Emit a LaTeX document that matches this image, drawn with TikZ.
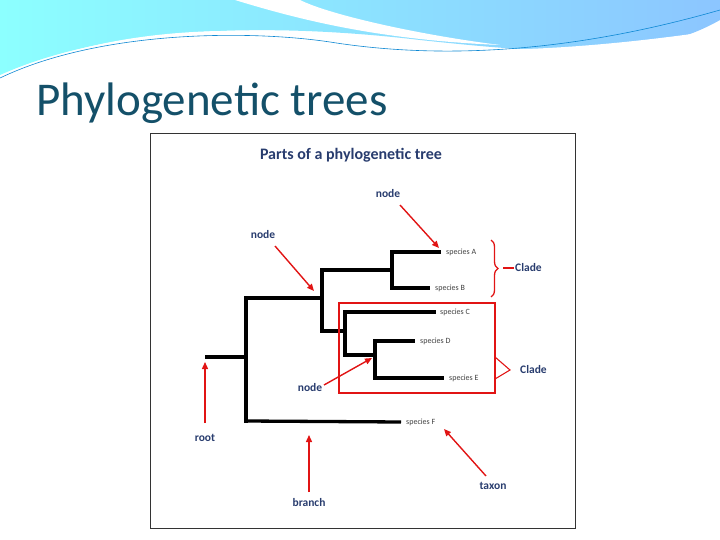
\documentclass[tikz,border=0pt]{standalone}
\usepackage{fontspec}
\setmainfont{Carlito}
\usetikzlibrary{arrows.meta,decorations.pathreplacing}
\definecolor{ttl}{RGB}{20,80,105}
\definecolor{lbl}{RGB}{40,60,110}
\definecolor{arr}{RGB}{225,20,20}
\begin{document}
\begin{tikzpicture}[x=1pt,y=-1pt,
 br/.style={line width=3.3pt},
 ar/.style={arr,line width=1.4pt,-{Triangle[length=7pt,width=6pt]}},
 sp/.style={font=\fontsize{8}{9}\selectfont,text=black!75,anchor=west,inner sep=1pt},
 lb/.style={font=\fontsize{11.5}{13}\selectfont\bfseries,text=lbl,inner sep=1pt}]
\useasboundingbox (0,0) rectangle (720,540);
% header
\shade[left color=cyan!45!white,right color=cyan!50!blue!45!white] (0,0) -- (720,0) -- (720,20) .. controls (650,60) and (560,55) .. (420,40) .. controls (250,20) and (100,30) .. (0,75) -- cycle;
\fill[white] (0,80) .. controls (100,25) and (250,25) .. (330,38) .. controls (430,55) and (550,55) .. (720,30) -- (720,80) -- cycle;
\fill[white] (235,0) .. controls (300,20) and (380,40) .. (500,45) .. controls (420,35) and (330,15) .. (300,0) -- cycle;
\draw[cyan!70!blue,line width=0.6pt] (0,78) .. controls (100,30) and (250,30) .. (330,42) .. controls (430,58) and (560,56) .. (720,10);
\node[anchor=base west,font=\fontsize{47}{50}\selectfont,text=ttl,inner sep=0] (t) at (36,116) {Phylogenetic trees};
% panel
\node[draw=black!80,line width=0.6pt,minimum width=425pt,minimum height=395pt,inner sep=0,anchor=north west] (panel) at (150,133) {};
\node[font=\fontsize{16}{18}\selectfont\bfseries,text=lbl] (h) at (351,155) {Parts of a phylogenetic tree};
% tree
\coordinate (r0) at (205,357); \coordinate (n1) at (246,357);
\coordinate (n1t) at (246,298); \coordinate (n1b) at (246,421);
\coordinate (n2) at (322,298); \coordinate (n2t) at (322,270); \coordinate (n2b) at (322,331);
\coordinate (n3) at (392,270); \coordinate (n3t) at (392,252); \coordinate (n3b) at (392,288);
\coordinate (n4) at (345,331); \coordinate (n4t) at (345,312); \coordinate (n4b) at (345,355);
\coordinate (n5) at (375,355); \coordinate (n5t) at (375,341); \coordinate (n5b) at (375,378);
\node[sp] (A) at (445,252) {species A};
\node[sp] (B) at (434,288) {species B};
\node[sp] (C) at (439,312) {species C};
\node[sp] (D) at (419,341) {species D};
\node[sp] (E) at (448,378) {species E};
\node[sp] (F) at (405,422) {species F};
\draw[br] (r0) -- (n1);
\draw[br,line cap=rect] (n1t) -- (n1b);
\draw[br] (n1t) -- (n2); \draw[br] (n1b) -- ([xshift=-4pt]F.west);
\draw[br,line cap=rect] (n2t) -- (n2b);
\draw[br] (n2t) -- (n3); \draw[br,line cap=rect] (n3t) -- (n3b);
\draw[br] (n3t) -- ([xshift=-4pt]A.west); \draw[br] (n3b) -- ([xshift=-4pt]B.west);
\draw[br] (n2b) -- (n4); \draw[br,line cap=rect] (n4t) -- (n4b);
\draw[br] (n4t) -- ([xshift=-3pt]C.west); \draw[br] (n4b) -- (n5);
\draw[br,line cap=rect] (n5t) -- (n5b);
\draw[br] (n5t) -- ([xshift=-4pt]D.west); \draw[br] (n5b) -- ([xshift=-4pt]E.west);
% clades
\coordinate (bx1) at (339,303); \coordinate (bx2) at (495,393);
\draw[arr,line width=1.1pt] (bx1) rectangle (bx2);
\draw[arr,line width=1.3pt,decorate,decoration={brace,amplitude=7pt}] (491,240) -- (491,297);
\node[lb,anchor=west] (c1) at (514,268) {Clade};
\draw[arr,line width=1.3pt] (503,268) -- (c1.west);
\node[lb,anchor=west] (c2) at (519,370) {Clade};
\draw[arr,line width=1.1pt] (495,357) -- (510,370) -- (495,379);
% labels + arrows
\node[lb] (nd1) at (388,194) {node};
\node[lb] (nd2) at (263,235) {node};
\node[lb] (nd3) at (310,388) {node};
\node[lb] (root) at (205,438) {root};
\node[lb] (branch) at (309,503) {branch};
\node[lb] (taxon) at (493,486) {taxon};
\coordinate (a1) at (439,248); \coordinate (a2) at (314,291); \coordinate (a3) at (372,358);
\coordinate (a4) at (205,362); \coordinate (a5) at (309,435); \coordinate (a6) at (444,429);
\draw[ar] (400,205) -- (a1);
\draw[ar] (275,246) -- (a2);
\draw[ar] (324,385) -- (a3);
\draw[ar] (205,423) -- (a4);
\draw[ar] (309,492) -- (a5);
\draw[ar] (486,476) -- (a6);
\end{tikzpicture}
\end{document}
